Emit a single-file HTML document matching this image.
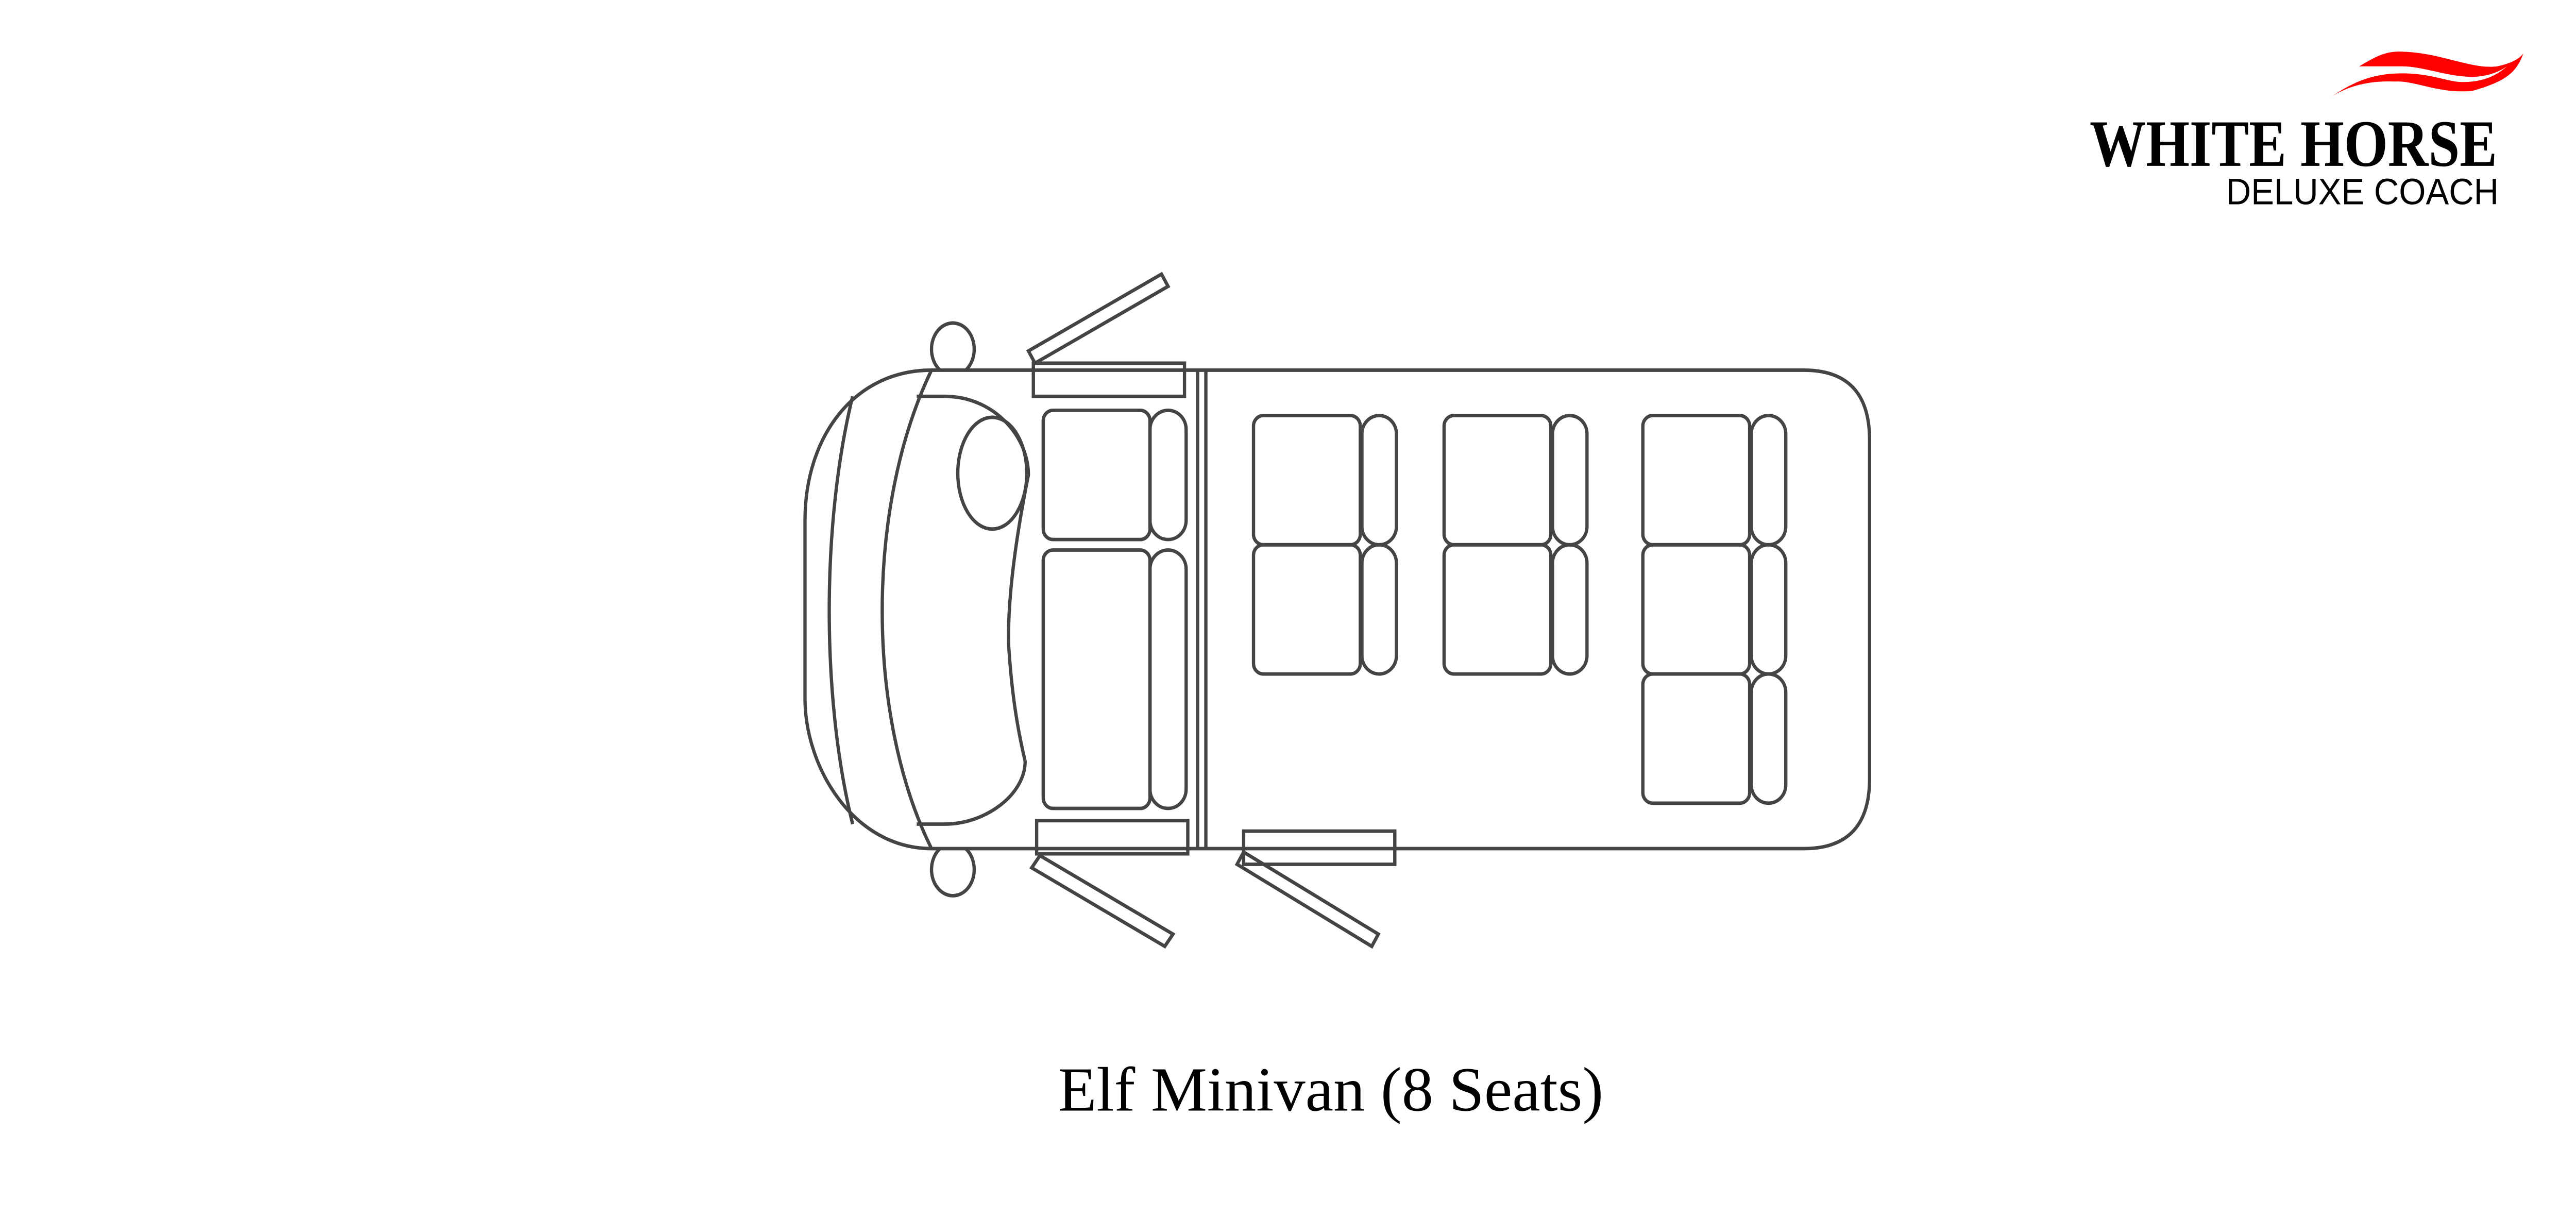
<!DOCTYPE html>
<html><head><meta charset="utf-8"><style>
html,body{margin:0;padding:0;background:#fff;width:100%;height:100%;overflow:hidden;}
svg{display:block;width:100vw;height:100vh;}
</style></head><body>
<svg viewBox="0 0 1568 697" preserveAspectRatio="none" xmlns="http://www.w3.org/2000/svg">
<rect width="1568" height="697" fill="#fff"/>
<g fill="none" stroke="#444" stroke-width="2">
<ellipse cx="580" cy="200" rx="13" ry="15"/>
<ellipse cx="580" cy="498" rx="13" ry="15"/>
<path d="M567,212 L1098,212 Q1138,212 1138,252 L1138,446 Q1138,486 1098,486 L567,486 C520,486 490,440 490,400 L490,298 C490,250 520,212 567,212 Z" fill="#fff"/>
<path d="M519,227 C500,300 500,400 519,472"/>
<path d="M567,212 C527,290 527,410 567,486"/>
<path d="M558,227 L575,227 C605,227 626,250 626,272 C620,300 613,340 614,370 C616,400 620,420 624,436 C624,455 600,472 575,472 L558,472"/>
<ellipse cx="604" cy="271" rx="21" ry="32"/>
<line x1="729" y1="212" x2="729" y2="486"/>
<line x1="734" y1="212" x2="734" y2="486"/>
<rect x="629" y="208" width="92" height="19"/>
<rect x="631" y="470" width="92" height="19"/>
<rect x="757" y="476" width="92" height="19"/>
<polygon points="626,201 707,157 711,164 630,208"/>
<polygon points="628,497 633,490 714,535 709,542"/>
<polygon points="753,495 757,488 839,535 835,542"/>
<rect x="635" y="235" width="65" height="74" rx="6"/>
<rect x="700" y="235" width="22" height="74" rx="11"/>
<rect x="635" y="315" width="65" height="148" rx="6"/>
<rect x="700" y="315" width="22" height="148" rx="11"/>
<rect x="763" y="238" width="65" height="74" rx="6"/>
<rect x="829" y="238" width="21" height="74" rx="10.5"/>
<rect x="763" y="312" width="65" height="74" rx="6"/>
<rect x="829" y="312" width="21" height="74" rx="10.5"/>
<rect x="879" y="238" width="65" height="74" rx="6"/>
<rect x="945" y="238" width="21" height="74" rx="10.5"/>
<rect x="879" y="312" width="65" height="74" rx="6"/>
<rect x="945" y="312" width="21" height="74" rx="10.5"/>
<rect x="1000" y="238" width="65" height="74" rx="6"/>
<rect x="1066" y="238" width="21" height="74" rx="10.5"/>
<rect x="1000" y="312" width="65" height="74" rx="6"/>
<rect x="1066" y="312" width="21" height="74" rx="10.5"/>
<rect x="1000" y="386" width="65" height="74" rx="6"/>
<rect x="1066" y="386" width="21" height="74" rx="10.5"/>
</g>
<path d="M1436,38 C1445,33 1452,29 1462,29.6 C1485,30 1505,40 1520,38 C1530,36 1534,33 1536,30.6 C1532,40 1528,46 1505,52 C1485,54 1470,46 1458,46.7 C1440,46 1428,50 1418,56 C1428,50 1440,42 1462,42 C1480,42 1490,47 1499,47 C1512,47 1520,43 1526,38 C1520,42 1512,44 1505,44 C1490,44 1475,38 1462,38 C1450,38 1442,38 1436,38 Z" fill="#ff0000"/>
<text x="1272" y="95" font-family="Liberation Serif, serif" font-weight="bold" font-size="38" textLength="248" lengthAdjust="spacingAndGlyphs" fill="#000">WHITE HORSE</text>
<text x="1355" y="117" font-family="Liberation Sans, sans-serif" font-size="21" textLength="166" lengthAdjust="spacingAndGlyphs" fill="#000">DELUXE COACH</text>
<text x="644" y="636" font-family="Liberation Serif, serif" font-size="36" textLength="332" lengthAdjust="spacingAndGlyphs" fill="#000">Elf Minivan (8 Seats)</text>
</svg>
</body></html>
